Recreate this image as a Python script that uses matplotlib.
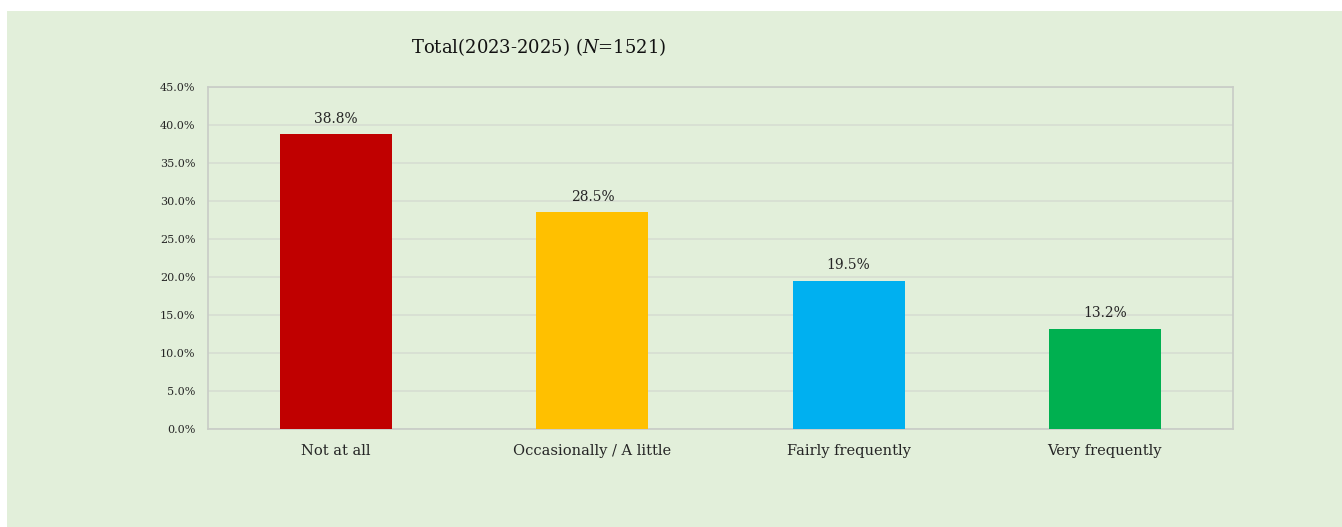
import matplotlib.pyplot as plt
from matplotlib.patches import Rectangle
from matplotlib.ticker import PercentFormatter

categories = ['Not at all', 'Occasionally / A little', 'Fairly frequently', 'Very frequently']
shares = [38.8, 28.5, 19.5, 13.2]
bar_colors = ['#C00000', '#FFC000', '#00B0F0', '#00B050']

plt.rcParams['font.family'] = ['DejaVu Serif']
plt.rcParams['mathtext.fontset'] = 'dejavuserif'
text_color = '#262626'
bg = '#E2EFDA'

fig = plt.figure(figsize=(13.42, 5.27), dpi=100, facecolor='white')
# green panel, leaving a thin white strip on the top and left
fig.patches.append(Rectangle((7 / 1342, 0), 1, 1 - 11 / 527, transform=fig.transFigure,
                             facecolor=bg, edgecolor='none', zorder=-10))

ax = fig.add_axes([208 / 1342, 1 - 429 / 527, 1025 / 1342, 342 / 527])
ax.set_facecolor(bg)

x = range(len(categories))
bars = ax.bar(x, shares, width=0.4375, color=bar_colors, zorder=3)
for rect, v in zip(bars, shares):
    ax.annotate(f'{v:.1f}%', (rect.get_x() + rect.get_width() / 2, v),
                xytext=(0, 6), textcoords='offset points', ha='center', va='bottom',
                fontsize=10, color=text_color, zorder=4)

ax.set_xlim(-0.5, 3.5)
ax.set_ylim(0, 45)
ax.set_yticks([i * 5 for i in range(10)])
ax.yaxis.set_major_formatter(PercentFormatter(decimals=1))
ax.set_xticks(list(x))
ax.set_xticklabels(categories)
ax.tick_params(axis='y', length=0, pad=9, labelsize=8, labelcolor=text_color)
ax.tick_params(axis='x', length=0, pad=11, labelsize=10.5, labelcolor=text_color)

ax.grid(axis='y', color='#D6DDD2', linewidth=1.2, zorder=0)
for side in ax.spines.values():
    side.set_color('#C8CCC6')
    side.set_linewidth(1.2)

fig.text(539 / 1342, 1 - 47 / 527, r'Total(2023-2025) ($\mathit{N}$=1521)',
         ha='center', va='center', fontsize=13, color='#111111')

fig.savefig('out.png', dpi=100, facecolor=fig.get_facecolor())
